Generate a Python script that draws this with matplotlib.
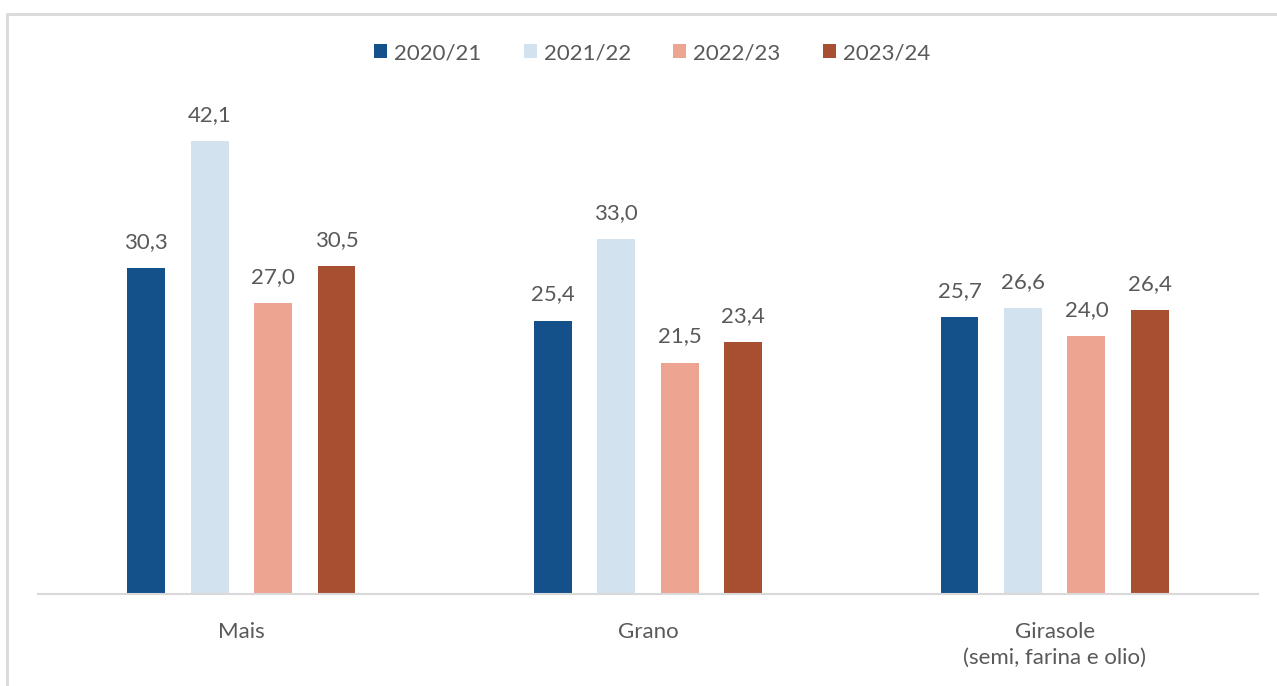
import matplotlib
matplotlib.use("Agg")
import matplotlib.pyplot as plt
import matplotlib.patches as mpatches
import numpy as np

categories = ["Mais", "Grano", "Girasole\n(semi, farina e olio)"]
seasons = ["2020/21", "2021/22", "2022/23", "2023/24"]
values = {
    "2020/21": [30.3, 25.4, 25.7],
    "2021/22": [42.1, 33.0, 26.6],
    "2022/23": [27.0, 21.5, 24.0],
    "2023/24": [30.5, 23.4, 26.4],
}
colors = ["#14508a", "#d3e2ef", "#eda591", "#a84f32"]

plt.rcParams["font.family"] = ["Lato", "DejaVu Sans"]
text_color = "#595959"
fs = 16

W, H = 1277, 686
fig = plt.figure(figsize=(W / 100, H / 100), dpi=100)
fig.patch.set_facecolor("white")

# light grey frame, cut at right and bottom like the source
fig.patches.append(mpatches.Rectangle((7 / W, -0.1), 1.2, (H - 14) / H + 0.1,
                                      transform=fig.transFigure, fill=False,
                                      edgecolor="#d9d9d9", linewidth=2))

ax = fig.add_axes([38 / W, (H - 594) / H, 1220 / W, (594 - 56) / H])
x = np.arange(len(categories))
bw = 0.093
step = 0.156
for i, (s, c) in enumerate(zip(seasons, colors)):
    pos = x + (i - 1.5) * step
    bars = ax.bar(pos, values[s], width=bw, color=c, label=s, zorder=2)
    for b, v in zip(bars, values[s]):
        ax.text(b.get_x() + b.get_width() / 2, v + 1.5, f"{v:.1f}".replace(".", ","),
                ha="center", va="bottom", fontsize=fs, color=text_color)

ax.set_xlim(-0.5, len(categories) - 0.5)
ax.set_ylim(0, 50)
ax.set_yticks([])
ax.set_xticks(x)
ax.set_xticklabels(categories, fontsize=fs, color=text_color, linespacing=1.4)
ax.tick_params(axis="x", length=0, pad=20)
for sp in ["top", "right", "left"]:
    ax.spines[sp].set_visible(False)
ax.spines["bottom"].set_color("#d9d9d9")
ax.spines["bottom"].set_linewidth(1.5)

leg = fig.legend(loc="center", bbox_to_anchor=(652 / W, 1 - 53 / H), ncol=4,
                 frameon=False, fontsize=fs, handlelength=0.6, handleheight=0.6,
                 handletextpad=0.3, columnspacing=1.9)
for t in leg.get_texts():
    t.set_color(text_color)

fig.savefig("out.png", dpi=100, facecolor="white")
